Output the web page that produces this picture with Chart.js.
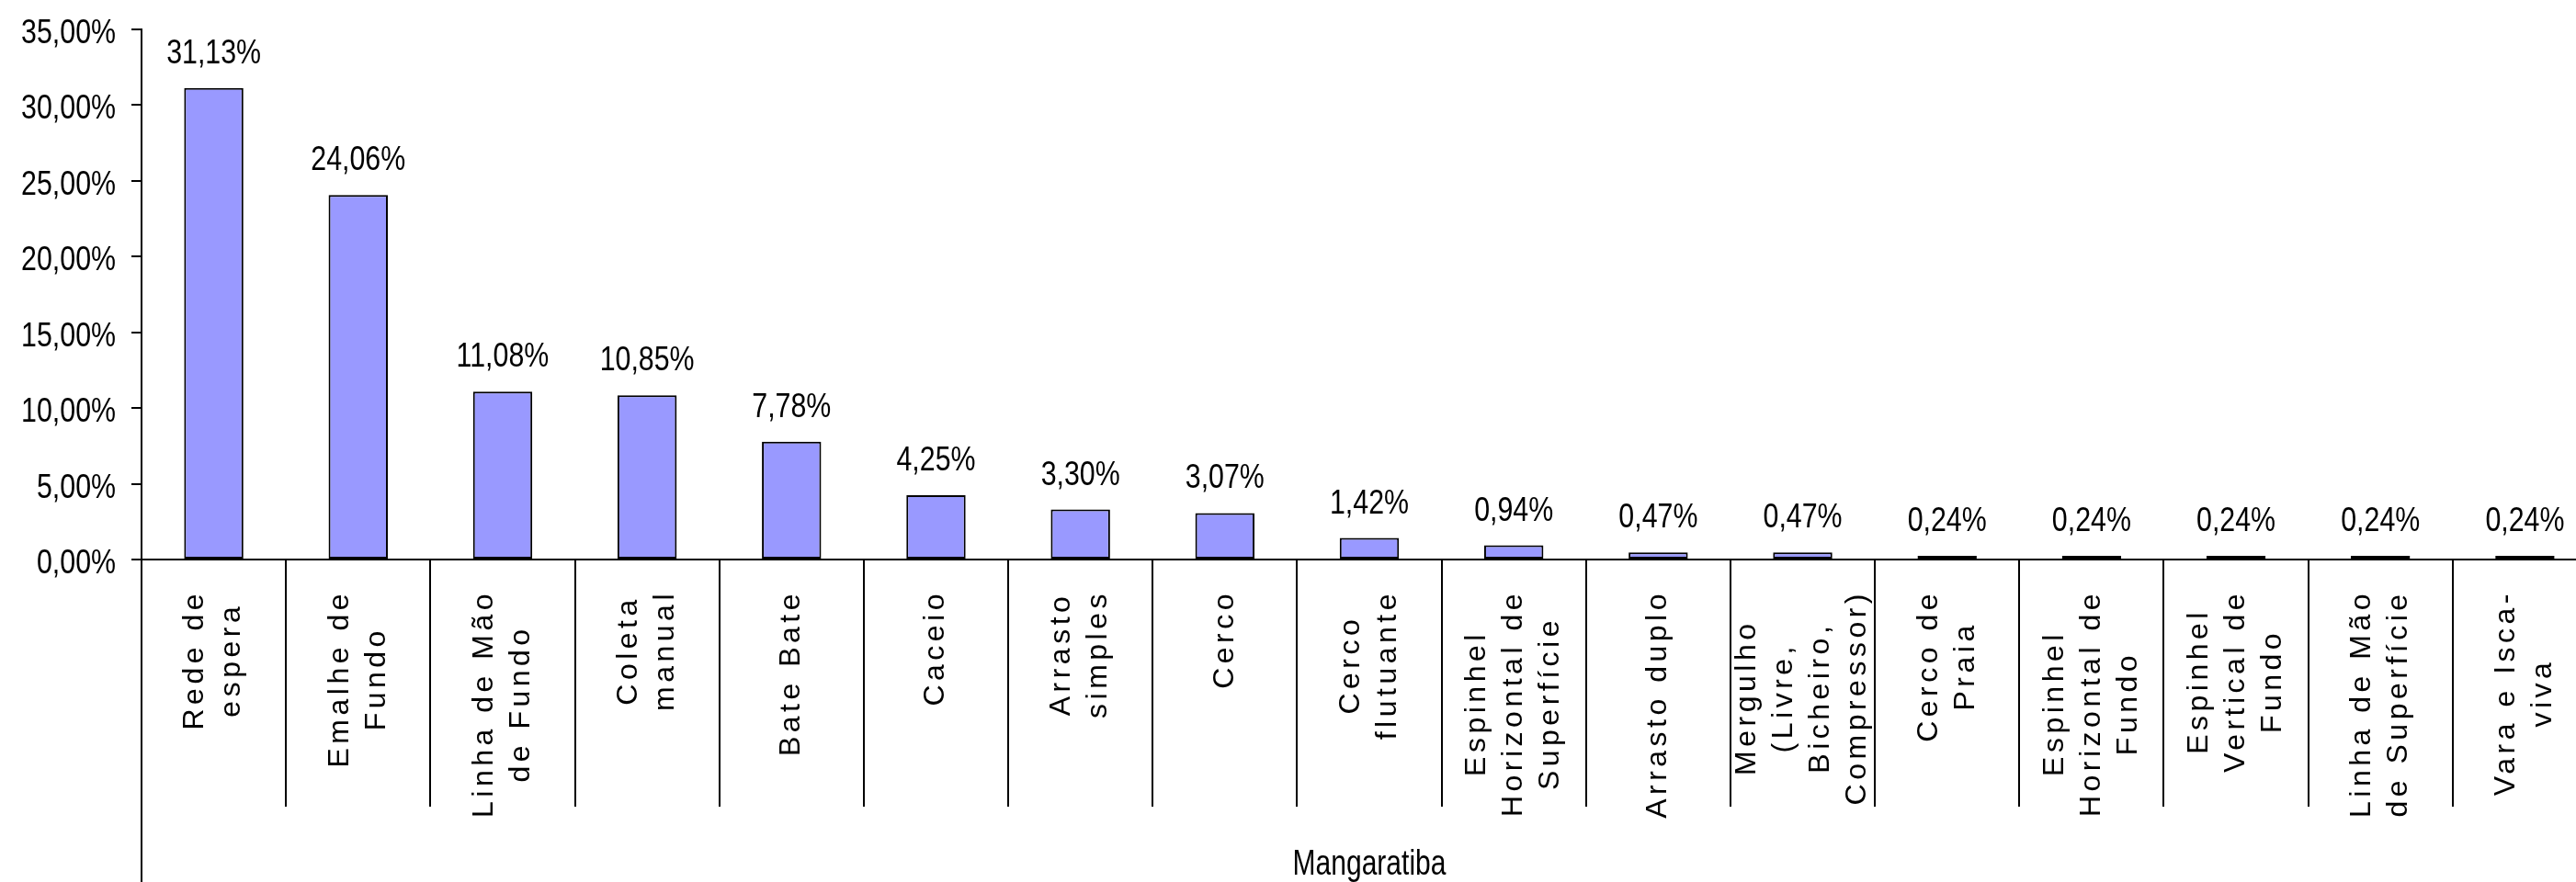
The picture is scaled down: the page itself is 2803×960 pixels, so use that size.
<!DOCTYPE html>
<html lang="pt">
<head>
<meta charset="utf-8">
<title>Mangaratiba</title>
<script src="https://cdn.jsdelivr.net/npm/chart.js@4/dist/chart.umd.min.js"></script>
<style>
  html, body { margin: 0; padding: 0; background: #ffffff; overflow: hidden; }
  #wrap { width: 2803px; height: 960px; overflow: hidden; }
  canvas { display: block; }
</style>
</head>
<body>
<div id="wrap"><canvas id="chart" width="2830" height="960" style="width:2830px;height:960px"></canvas></div>
<script>
// Fishing gear categories (each entry is split into the lines it is printed on)
const categories = [
  ["Rede de", "espera"],
  ["Emalhe de", "Fundo"],
  ["Linha de Mão", "de Fundo"],
  ["Coleta", "manual"],
  ["Bate Bate"],
  ["Caceio"],
  ["Arrasto", "simples"],
  ["Cerco"],
  ["Cerco", "flutuante"],
  ["Espinhel", "Horizontal de", "Superfície"],
  ["Arrasto duplo"],
  ["Mergulho", "(Livre,", "Bicheiro,", "Compressor)"],
  ["Cerco de", "Praia"],
  ["Espinhel", "Horizontal de", "Fundo"],
  ["Espinhel", "Vertical de", "Fundo"],
  ["Linha de Mão", "de Superfície"],
  ["Vara e Isca-", "viva"]
];

// Share of each gear, in percent
const shares = [31.13, 24.06, 11.08, 10.85, 7.78, 4.25, 3.30, 3.07, 1.42, 0.94, 0.47, 0.47, 0.24, 0.24, 0.24, 0.24, 0.24];

// Value axis ticks
const yTicks = [0, 5, 10, 15, 20, 25, 30, 35];

const groupLabel = "Mangaratiba";

const SANS = "'Liberation Sans', Arial, sans-serif";

function pct(v) {
  return v.toFixed(2).replace('.', ',') + '%';
}

// Condensed text: regular sans squeezed horizontally
function narrowText(ctx, text, x, y, size, squeeze, align) {
  ctx.save();
  ctx.translate(x, y);
  ctx.scale(squeeze, 1);
  ctx.font = size + 'px ' + SANS;
  ctx.fillStyle = '#000';
  ctx.textAlign = align;
  ctx.textBaseline = 'alphabetic';
  ctx.fillText(text, 0, 0);
  ctx.restore();
}

// Value labels above each bar
const valueLabels = {
  id: 'valueLabels',
  afterDatasetsDraw(chart) {
    const ctx = chart.ctx;
    const meta = chart.getDatasetMeta(0);
    meta.data.forEach((bar, i) => {
      narrowText(ctx, pct(shares[i]), bar.x, bar.y - 27, 37, 0.82, 'center');
    });
  }
};

// Percent labels of the value axis
const valueAxisLabels = {
  id: 'valueAxisLabels',
  afterDraw(chart) {
    const ctx = chart.ctx;
    const ys = chart.scales.y;
    const right = chart.chartArea.left - 11 - 17;
    yTicks.forEach(v => {
      narrowText(ctx, pct(v), right, ys.getPixelForValue(v) + 15, 37, 0.82, 'right');
    });
  }
};

// Vertical category labels, lines centred on each other, hanging below the axis,
// plus the group name underneath
const categoryLabels = {
  id: 'categoryLabels',
  afterDraw(chart) {
    const ctx = chart.ctx;
    const xs = chart.scales.x;
    const top = chart.chartArea.bottom + 33;
    const lineGap = 40;
    ctx.save();
    ctx.font = '32px ' + SANS;
    if ('letterSpacing' in ctx) ctx.letterSpacing = '4.5px';
    ctx.fillStyle = '#000';
    ctx.textAlign = 'center';
    ctx.textBaseline = 'middle';
    categories.forEach((lines, i) => {
      const x = xs.getPixelForValue(i);
      const w = Math.max(...lines.map(l => ctx.measureText(l).width));
      const cy = top + w / 2;
      ctx.save();
      ctx.translate(x, cy);
      ctx.rotate(-Math.PI / 2);
      lines.forEach((line, k) => {
        ctx.fillText(line, 0, (k - (lines.length - 1) / 2) * lineGap);
      });
      ctx.restore();
    });
    ctx.restore();

    const mid = (xs.left + xs.right) / 2;
    narrowText(ctx, groupLabel, mid, chart.height - 8, 38, 0.79, 'center');
  }
};

// Outer frame line of the category axis: continues the value axis down to the bottom
const axisFrame = {
  id: 'axisFrame',
  afterDraw(chart) {
    const ctx = chart.ctx;
    const x = chart.chartArea.left;
    ctx.save();
    ctx.strokeStyle = '#000';
    ctx.lineWidth = 2;
    ctx.beginPath();
    ctx.moveTo(x, chart.chartArea.bottom);
    ctx.lineTo(x, chart.height);
    ctx.stroke();
    ctx.restore();
  }
};

new Chart(document.getElementById('chart'), {
  type: 'bar',
  data: {
    labels: categories,
    datasets: [{
      data: shares,
      backgroundColor: '#9999FF',
      borderColor: '#000000',
      borderWidth: 2,
      borderSkipped: false,
      barPercentage: 0.41,
      categoryPercentage: 1
    }]
  },
  options: {
    responsive: false,
    animation: false,
    devicePixelRatio: 1,
    layout: { padding: { top: 32, right: 4, left: 0, bottom: 0 } },
    plugins: {
      legend: { display: false },
      tooltip: { enabled: false }
    },
    scales: {
      x: {
        offset: true,
        grid: {
          offset: true,
          drawOnChartArea: false,
          drawTicks: true,
          tickLength: 269,
          color: '#000',
          lineWidth: 2
        },
        border: { display: true, color: '#000', width: 2 },
        ticks: { display: false },
        afterFit(scale) { scale.height = 351; }
      },
      y: {
        min: yTicks[0],
        max: yTicks[yTicks.length - 1],
        afterBuildTicks(scale) { scale.ticks = yTicks.map(v => ({ value: v })); },
        grid: {
          drawOnChartArea: false,
          drawTicks: true,
          tickLength: 11,
          color: '#000',
          lineWidth: 2
        },
        border: { display: true, color: '#000', width: 2 },
        ticks: { display: false },
        afterFit(scale) { scale.width = 154; }
      }
    }
  },
  plugins: [valueLabels, valueAxisLabels, categoryLabels, axisFrame]
});
</script>
</body>
</html>
